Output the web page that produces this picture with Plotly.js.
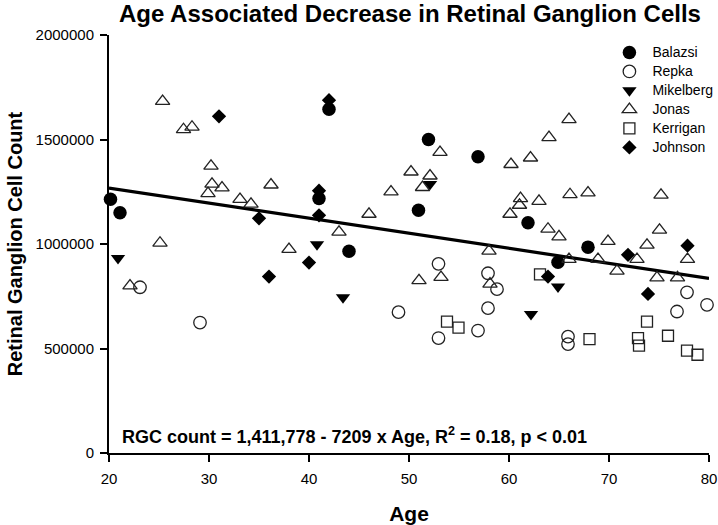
<!DOCTYPE html>
<html>
<head>
<meta charset="utf-8">
<script src="https://cdn.plot.ly/plotly-3.0.1.min.js"></script>
<style>
  html, body { margin: 0; padding: 0; background: #fff; }
  #chart { width: 718px; height: 525px; }
</style>
</head>
<body>
<div id="chart"></div>
<script>
// ---- data ----
const balazsiAge   = [20.15, 21.1, 42.0, 51.95, 56.9, 41.0, 50.95, 44.0, 61.9, 67.9, 64.9];
const balazsiCount = [1214000, 1150000, 1645000, 1500000, 1417000, 1218000, 1161000, 965000, 1102000, 985000, 913000];

const repkaAge   = [23.1, 29.1, 52.95, 57.9, 58.8, 57.9, 48.95, 56.9, 52.95, 65.9, 65.9, 77.8, 79.8, 76.8];
const repkaCount = [793000, 624000, 905000, 860000, 784000, 693000, 674000, 586000, 550000, 557000, 521000, 769000, 709000, 677000];

const mikelbergAge   = [20.9, 40.8, 43.4, 52.1, 64.9, 62.2];
const mikelbergCount = [932000, 998000, 744000, 1287000, 796000, 664000];

const jonasAge = [25.36, 27.45, 28.3, 30.2, 30.3, 31.3, 29.9, 36.2, 33.1, 34.2, 25.1, 38.0,
                  53.1, 50.2, 52.1, 51.35, 48.2, 46.0, 43.0, 58.0,
                  66.0, 64.0, 62.15, 60.2, 75.2, 66.1, 67.9, 61.15, 61.05, 63.0, 60.1, 63.9, 65.0,
                  75.05, 69.9, 73.8, 72.8, 77.85, 66.0, 68.9, 70.8, 74.8, 76.85, 22.1, 53.2, 51.0, 58.1];
const jonasCount = [1683000, 1548000, 1560000, 1373000, 1287000, 1269000, 1242000, 1283000, 1214000, 1191000, 1005000, 975000,
                    1439000, 1345000, 1326000, 1271000, 1250000, 1143000, 1057000, 967000,
                    1596000, 1510000, 1412000, 1381000, 1234000, 1237000, 1245000, 1218000, 1186000, 1205000, 1143000, 1072000, 1035000,
                    1067000, 1013000, 995000, 927000, 927000, 927000, 927000, 871000, 839000, 839000, 800000, 841000, 825000, 809000];

const kerriganAge   = [53.8, 54.95, 63.1, 68.05, 73.8, 75.9, 72.9, 73.0, 77.8, 78.85];
const kerriganCount = [629000, 600000, 855000, 545000, 629000, 561000, 550000, 514000, 490000, 470000];

const johnsonAge   = [31.0, 35.0, 42.0, 41.0, 41.0, 40.0, 36.0, 63.9, 71.9, 73.9, 77.85];
const johnsonCount = [1611000, 1123000, 1688000, 1255000, 1137000, 911000, 844000, 844000, 948000, 761000, 992000];

// regression line end points (RGC = 1,411,778 - 7209 x Age)
const regAge   = [20, 80];
const regCount = [1267598, 835058];

const xTicks = [20, 30, 40, 50, 60, 70, 80];
const yTicks = [0, 500000, 1000000, 1500000, 2000000];

const seriesNames = ['Balazsi', 'Repka', 'Mikelberg', 'Jonas', 'Kerrigan', 'Johnson'];
// ---------------------------------------

const FONT = 'Liberation Sans, Arial, sans-serif';
const openLine = {color: '#222', width: 1.3};

function sc(name, x, y, symbol, size, filled) {
  return {
    type: 'scatter', mode: 'markers',
    name: '<span style="font-size:14px">' + name + '</span>',
    x: x, y: y,
    marker: filled
      ? {symbol: symbol, size: size, color: '#000', line: {width: 0}}
      : {symbol: symbol, size: size, color: 'rgba(255,255,255,0)', line: openLine},
    cliponaxis: false
  };
}

const traces = [
  {type: 'scatter', mode: 'lines', x: regAge, y: regCount, showlegend: false,
   line: {color: '#000', width: 3.2}, hoverinfo: 'skip'},
  sc(seriesNames[0], balazsiAge, balazsiCount, 'circle', 13.5, true),
  sc(seriesNames[1], repkaAge, repkaCount, 'circle', 12.5, false),
  sc(seriesNames[2], mikelbergAge, mikelbergCount, 'triangle-down', 12.5, true),
  sc(seriesNames[3], jonasAge, jonasCount, 'triangle-up', 12.5, false),
  sc(seriesNames[4], kerriganAge, kerriganCount, 'square', 11, false),
  sc(seriesNames[5], johnsonAge, johnsonCount, 'diamond', 11, true)
];

const layout = {
  width: 718, height: 525,
  margin: {l: 108.5, r: 8.5, t: 34.6, b: 71.6, pad: 0, autoexpand: false},
  paper_bgcolor: '#fff', plot_bgcolor: '#fff',
  font: {family: FONT, color: '#000', size: 15},
  showlegend: true,
  title: {
    text: 'Age Associated Decrease in Retinal Ganglion Cells',
    font: {family: FONT, size: 24, color: '#000', weight: 'bold'},
    x: 0.571, xanchor: 'center', y: 0.975, yanchor: 'middle'
  },
  xaxis: {
    range: [20, 80], tickvals: xTicks, ticktext: xTicks.map(String),
    showline: true, linecolor: '#000', linewidth: 2,
    ticks: 'outside', ticklen: 7, tickwidth: 2, tickcolor: '#000',
    ticklabelstandoff: 4, ticklabeloverflow: 'allow',
    showgrid: false, zeroline: false,
    tickfont: {family: FONT, size: 15, color: '#000'},
    title: {text: 'Age', font: {family: FONT, size: 21, color: '#000', weight: 'bold'}, standoff: 22}
  },
  yaxis: {
    range: [0, 2000000], tickvals: yTicks, ticktext: yTicks.map(String),
    showline: true, linecolor: '#000', linewidth: 2,
    ticks: 'outside', ticklen: 7, tickwidth: 2, tickcolor: '#000',
    ticklabelstandoff: 3,
    showgrid: false, zeroline: false,
    tickfont: {family: FONT, size: 15, color: '#000'},
    title: {text: 'Retinal Ganglion Cell Count', font: {family: FONT, size: 20, color: '#000', weight: 'bold'}, standoff: 8}
  },
  legend: {
    x: 0.829, xanchor: 'left', y: 0.993, yanchor: 'top',
    bgcolor: 'rgba(0,0,0,0)', borderwidth: 0,
    itemwidth: 36,
    font: {family: FONT, size: 12, color: '#000'},
    itemclick: false
  },
  annotations: [{
    xref: 'paper', yref: 'paper', x: 0.019, y: 0.0415, xanchor: 'left', yanchor: 'middle',
    text: 'RGC count = 1,411,778 - 7209 x Age, R<sup>2</sup> = 0.18, p < 0.01',
    showarrow: false,
    font: {family: FONT, size: 18, color: '#000', weight: 'bold'}
  }]
};

Plotly.newPlot('chart', traces, layout, {displayModeBar: false, staticPlot: true});
</script>
</body>
</html>
